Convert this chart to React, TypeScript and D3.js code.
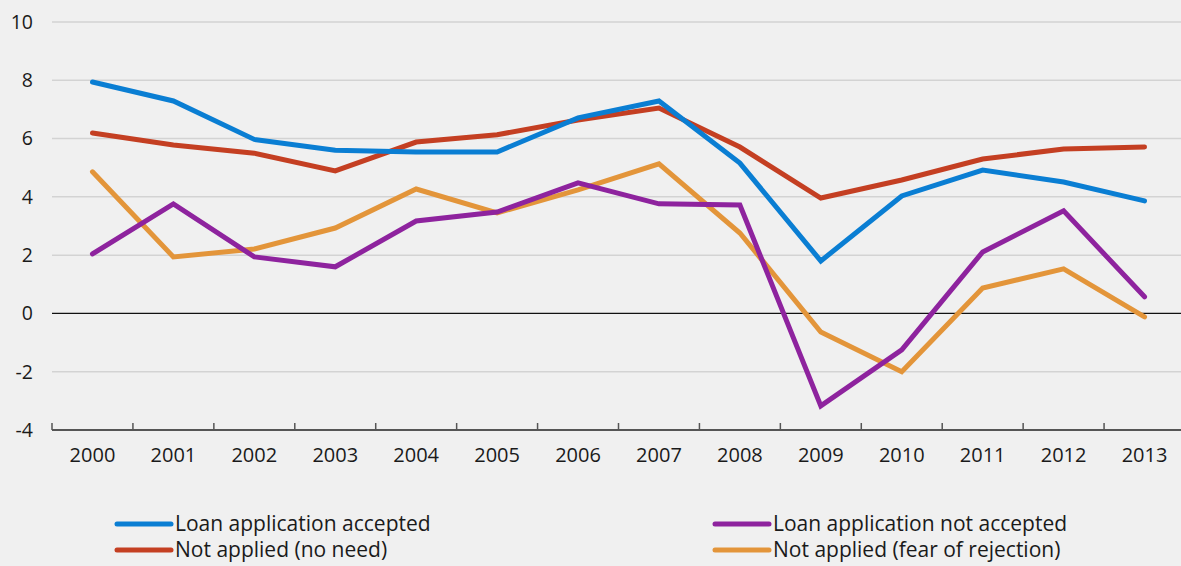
import React, { useEffect, useRef } from 'react';
import * as d3 from 'd3';

const years = ['2000', '2001', '2002', '2003', '2004', '2005', '2006', '2007', '2008', '2009', '2010', '2011', '2012', '2013'];
const accepted = [7.94, 7.29, 5.97, 5.6, 5.54, 5.54, 6.71, 7.29, 5.16, 1.8, 4.03, 4.92, 4.51, 3.86];
const noNeed = [6.19, 5.78, 5.5, 4.89, 5.88, 6.13, 6.64, 7.05, 5.71, 3.96, 4.58, 5.3, 5.64, 5.71];
const notAccepted = [2.04, 3.76, 1.94, 1.6, 3.17, 3.48, 4.48, 3.76, 3.72, -3.17, -1.25, 2.11, 3.52, 0.57];
const fearOfRejection = [4.86, 1.94, 2.21, 2.93, 4.27, 3.45, 4.24, 5.13, 2.76, -0.64, -2.0, 0.87, 1.53, -0.12];
const yTicks = [-4, -2, 0, 2, 4, 6, 8, 10];

const series = [
  { label: 'Loan application accepted', values: accepted, color: '#0a7ed3' },
  { label: 'Loan application not accepted', values: notAccepted, color: '#8e239e' },
  { label: 'Not applied (no need)', values: noNeed, color: '#c43f22' },
  { label: 'Not applied (fear of rejection)', values: fearOfRejection, color: '#e3953a' },
];

const font = '"Open Sans", sans-serif';

export default function App() {
  const svgRef = useRef<SVGSVGElement>(null);

  useEffect(() => {
    const width = 1181;
    const height = 566;
    const svg = d3.select(svgRef.current);
    svg.selectAll('*').remove();
    svg.attr('width', width).attr('height', height);

    svg.append('rect').attr('width', width).attr('height', height).attr('fill', '#f0f0f0');

    const x = d3.scaleBand().domain(years).range([52, 1185]);
    const y = d3.scaleLinear().domain([-4, 10]).range([430, 22]);

    // gridlines
    svg.selectAll('.grid')
      .data(yTicks.filter(t => t !== -4 && t !== 0))
      .enter()
      .append('line')
      .attr('x1', 52)
      .attr('x2', width)
      .attr('y1', d => y(d))
      .attr('y2', d => y(d))
      .attr('stroke', '#d3d3d3')
      .attr('stroke-width', 1.5);

    // y labels
    svg.selectAll('.ylab')
      .data(yTicks)
      .enter()
      .append('text')
      .attr('x', 33)
      .attr('y', d => y(d))
      .attr('dy', '0.35em')
      .attr('text-anchor', 'end')
      .text(d => d)
      .style('font-family', font)
      .style('font-size', '19.5px')
      .style('fill', '#1a1a1a');

    // zero line
    svg.append('line')
      .attr('x1', 52).attr('x2', width)
      .attr('y1', y(0)).attr('y2', y(0))
      .attr('stroke', '#111').attr('stroke-width', 1.2);

    // x axis
    const xAxis = svg.append('g').attr('transform', `translate(0,${y(-4)})`);
    xAxis.append('line')
      .attr('x1', 52).attr('x2', width)
      .attr('stroke', '#555').attr('stroke-width', 2);
    xAxis.selectAll('.tick')
      .data(years)
      .enter()
      .append('line')
      .attr('x1', d => x(d)!)
      .attr('x2', d => x(d)!)
      .attr('y1', 0)
      .attr('y2', -7)
      .attr('stroke', '#555')
      .attr('stroke-width', 1.5);
    xAxis.selectAll('.xlab')
      .data(years)
      .enter()
      .append('text')
      .attr('x', d => x(d)! + x.bandwidth() / 2)
      .attr('y', 32)
      .attr('text-anchor', 'middle')
      .text(d => d)
      .style('font-family', font)
      .style('font-size', '20px')
      .style('fill', '#1a1a1a');

    const line = d3.line<number>()
      .x((d, i) => x(years[i])! + x.bandwidth() / 2)
      .y(d => y(d));

    // draw order: red, blue, orange, purple
    [series[2], series[0], series[3], series[1]].forEach(s => {
      svg.append('path')
        .datum(s.values)
        .attr('d', line)
        .attr('fill', 'none')
        .attr('stroke', s.color)
        .attr('stroke-width', 5)
        .attr('stroke-linejoin', 'miter')
        .attr('stroke-linecap', 'round');
    });

    // legend
    const legend = svg.selectAll('.legend')
      .data(series)
      .enter()
      .append('g')
      .attr('transform', (d, i) => `translate(${i % 2 === 0 ? 117 : 715}, ${i < 2 ? 524 : 550})`);

    legend.append('line')
      .attr('x1', 0).attr('x2', 54)
      .attr('stroke', d => d.color)
      .attr('stroke-width', 5)
      .attr('stroke-linecap', 'round');

    legend.append('text')
      .attr('x', 58)
      .attr('dy', '0.35em')
      .text(d => d.label)
      .style('font-family', font)
      .style('font-size', '21px')
      .style('fill', '#1a1a1a');
  }, []);

  return <svg ref={svgRef} style={{ position: 'absolute', left: 0, top: 0 }}></svg>;
}
